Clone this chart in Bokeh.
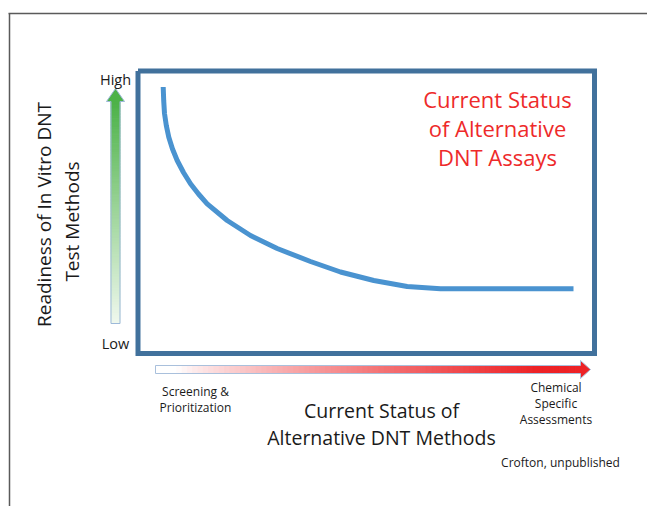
import numpy as np
from bokeh.plotting import figure
from bokeh.models import Range1d
from bokeh.core.properties import value
from bokeh.embed import file_html
from bokeh.resources import INLINE

# ---- data (page-pixel coordinates of the diagram) ----
curve_x = [162.7, 163.2, 164.0, 165.8, 168.3, 172.0, 176.7, 183.0, 190.0, 198.0, 206.7, 226.7, 250.0, 276.7, 310.0, 340.0, 373.3, 406.7, 440.0, 573.0]
curve_y = [86.5, 100.0, 113.0, 125.0, 136.7, 148.5, 160.0, 172.0, 183.3, 193.5, 203.3, 220.0, 235.0, 248.0, 261.0, 271.5, 280.0, 286.0, 288.3, 288.3]

title_lines = ["Current Status", "of Alternative", "DNT Assays"]
ylabel_lines = ["Readiness of In Vitro DNT", "Test Methods"]
xlabel_lines = ["Current Status of", "Alternative DNT Methods"]
left_lines = ["Screening &", "Prioritization"]
right_lines = ["Chemical", "Specific", "Assessments"]
credit = "Crofton, unpublished"
y_ticks = ["High", "Low"]

FONT = value("Open Sans")
W, H = 647, 506


def Y(py):
    return H - np.asarray(py, dtype=float)


p = figure(width=W, height=H, x_range=Range1d(0, W), y_range=Range1d(0, H),
           output_backend="svg", toolbar_location=None, min_border=0,
           x_axis_type=None, y_axis_type=None)
p.grid.visible = False
p.outline_line_color = None
p.background_fill_color = "white"
p.border_fill_color = "white"

# outer frame (top and left lines)
p.line([8, 647], list(Y([13, 13])), line_color="#5a5a5a", line_width=1.5)
p.line([9, 9], list(Y([13, 506])), line_color="#5a5a5a", line_width=1.5)

# blue box
bx0, bx1, by0, by1 = 137.5, 594, 70.5, 353
p.line([bx0, bx1, bx1, bx0, bx0], list(Y([by0, by0, by1, by1, by0])),
       line_color="#41719c", line_width=5, line_join="miter")

# curve
p.line(curve_x, list(Y(curve_y)), line_color="#4a93d0", line_width=5, line_join="round")


def lerp(c0, c1, t):
    return "#%02x%02x%02x" % tuple(int(round(a + (b - a) * t)) for a, b in zip(c0, c1))


# green vertical arrow (gradient)
n = 80
gy = np.linspace(323, 101, n + 1)
g0, g1 = (240, 248, 238), (76, 178, 72)
cols = [lerp(g0, g1, (i + 0.5) / n) for i in range(n)]
p.quad(left=110.5, right=119.5, bottom=Y(gy[:-1]), top=Y(gy[1:]), fill_color=cols,
       line_color=cols, line_width=1)
p.patch([106, 124, 115], list(Y([101, 101, 88])), fill_color="#4cb248", line_color=None)
p.patch([110.5, 119.5, 119.5, 124, 115, 106, 110.5], list(Y([323, 323, 101, 101, 88, 101, 101])),
        fill_color=None, line_color="#9db9d9", line_width=1)

# red horizontal arrow (gradient)
rx = np.linspace(155, 580, n + 1)
r0, r1 = (255, 255, 255), (237, 34, 38)
rcols = []
for i in range(n):
    t = (i + 0.5) / n
    t2 = min(1.0, max(0.0, (t - 0.05) / 0.85))
    rcols.append(lerp(r0, r1, t2 ** 0.8))
p.quad(left=rx[:-1], right=rx[1:], bottom=Y(373), top=Y(365), fill_color=rcols,
       line_color=rcols, line_width=1)
p.patch([580, 580, 590], list(Y([360, 378, 369])), fill_color="#ed2226", line_color=None)
p.patch([155, 580, 580, 590, 580, 580, 155], list(Y([365, 365, 360, 369, 378, 373, 373])),
        fill_color=None, line_color="#a9c0dc", line_width=1)

# texts
def txt(x, y, s, size, color="#1a1a1a", angle=0.0):
    p.text(x=[x], y=list(Y([y])), text=[s], text_font=FONT, text_font_size=f"{size}px",
           text_color=color, text_align="center", text_baseline="middle", angle=angle)


for s, y in zip(title_lines, [98, 127, 156]):
    txt(497, y, s, 22, color="#ee2a2a")

txt(115, 79, y_ticks[0], 14.5)
txt(115, 343, y_ticks[1], 14.5)

txt(43, 214, ylabel_lines[0], 19, angle=np.pi / 2)
txt(71, 221, ylabel_lines[1], 19, angle=np.pi / 2)

for s, y in zip(xlabel_lines, [410, 437]):
    txt(381, y, s, 19.5)

for s, y in zip(left_lines, [391, 407]):
    txt(195, y, s, 12)

for s, y in zip(right_lines, [387, 403, 419]):
    txt(555.5, y, s, 12)

txt(560, 462, credit, 12)

open("out.html", "w").write(file_html(p, INLINE))
